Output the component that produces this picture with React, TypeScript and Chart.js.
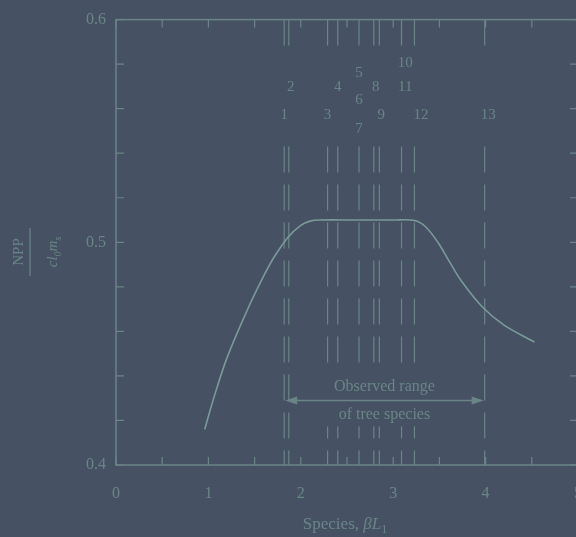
import React, { useEffect, useRef } from 'react';
import { Chart, registerables } from 'chart.js';

Chart.register(...registerables);

// Curve (NPP normalised vs species parameter)
const curveX = [0.96, 1.05, 1.2, 1.42, 1.6, 1.71, 1.86, 2.0, 2.1, 2.2, 2.6, 3.0, 3.23, 3.35, 3.49, 3.62, 3.74, 3.96, 4.2, 4.53];
const curveY = [0.416, 0.429, 0.448, 0.4695, 0.485, 0.4933, 0.5022, 0.5076, 0.5095, 0.51, 0.51, 0.51, 0.5098, 0.507, 0.4996, 0.4905, 0.4825, 0.4712, 0.4628, 0.4552];

// Species marker lines and their numeric labels
const speciesLineX = [1.82, 1.87, 2.29, 2.4, 2.63, 2.79, 2.85, 3.09, 3.23, 3.99];
const speciesNames = ['1', '2', '3', '4', '5', '6', '7', '8', '9', '10', '11', '12', '13'];
const speciesNameX = [1.82, 1.89, 2.29, 2.4, 2.63, 2.63, 2.63, 2.81, 2.87, 3.13, 3.13, 3.3, 4.03];
const speciesNameY = [0.557, 0.5695, 0.557, 0.5695, 0.576, 0.5637, 0.551, 0.5695, 0.557, 0.5807, 0.5695, 0.557, 0.557];

const yTickLabels = ['0.4', '0.5', '0.6'];
const xTickLabels = ['0', '1', '2', '3', '4', '5'];

const rangeStart = 1.82;
const rangeEnd = 3.99;
const rangeY = 0.429;
const rangeText = ['Observed range', 'of tree species'];

const BG = '#465263';
const INK = '#6a8586';
const CURVE = '#7a9a99';
const SERIF = '"Liberation Serif", "DejaVu Serif", serif';

const figurePlugin = {
  id: 'figurePlugin',
  beforeDraw(chart: any) {
    const { ctx, width, height } = chart;
    ctx.save();
    ctx.fillStyle = BG;
    ctx.fillRect(0, 0, width, height);
    ctx.restore();
  },
  beforeDatasetsDraw(chart: any) {
    const { ctx, chartArea } = chart;
    const xs = chart.scales.x;
    const ys = chart.scales.y;
    ctx.save();
    // dashed species lines
    ctx.strokeStyle = INK;
    ctx.lineWidth = 1.2;
    ctx.setLineDash([26, 12]);
    const gapTop = ys.getPixelForValue(0.588);
    const gapBottom = ys.getPixelForValue(0.543);
    speciesLineX.forEach((v) => {
      const px = xs.getPixelForValue(v);
      ctx.beginPath();
      ctx.moveTo(px, chartArea.top);
      ctx.lineTo(px, gapTop);
      ctx.stroke();
      ctx.beginPath();
      ctx.moveTo(px, gapBottom);
      ctx.lineTo(px, chartArea.bottom);
      ctx.stroke();
    });
    ctx.setLineDash([]);

    // species numbers
    ctx.fillStyle = INK;
    ctx.font = `15px ${SERIF}`;
    ctx.textAlign = 'center';
    ctx.textBaseline = 'middle';
    speciesNames.forEach((n, i) => {
      ctx.fillText(n, xs.getPixelForValue(speciesNameX[i]), ys.getPixelForValue(speciesNameY[i]));
    });

    // observed range annotation
    const x1 = xs.getPixelForValue(rangeStart);
    const x2 = xs.getPixelForValue(rangeEnd);
    const ay = ys.getPixelForValue(rangeY);
    const cx = (x1 + x2) / 2;
    ctx.fillStyle = BG;
    ctx.fillRect(x1 + 30, ay - 26, x2 - x1 - 60, 52);
    ctx.strokeStyle = INK;
    ctx.lineWidth = 1.5;
    ctx.beginPath();
    ctx.moveTo(x1 + 4, ay);
    ctx.lineTo(x2 - 4, ay);
    ctx.stroke();
    ctx.fillStyle = INK;
    ctx.beginPath();
    ctx.moveTo(x1 + 1, ay);
    ctx.lineTo(x1 + 13, ay - 4);
    ctx.lineTo(x1 + 13, ay + 4);
    ctx.closePath();
    ctx.fill();
    ctx.beginPath();
    ctx.moveTo(x2 - 1, ay);
    ctx.lineTo(x2 - 13, ay - 4);
    ctx.lineTo(x2 - 13, ay + 4);
    ctx.closePath();
    ctx.fill();
    ctx.font = `16px ${SERIF}`;
    ctx.fillText(rangeText[0], cx, ay - 14);
    ctx.fillText(rangeText[1], cx, ay + 14);
    ctx.restore();
  },
  afterDraw(chart: any) {
    const { ctx, chartArea } = chart;
    const xs = chart.scales.x;
    const ys = chart.scales.y;
    const { left, right, top, bottom } = chartArea;
    ctx.save();
    ctx.strokeStyle = INK;
    ctx.lineWidth = 1.5;
    ctx.strokeRect(left, top, right - left, bottom - top);
    ctx.lineWidth = 1.2;
    const tl = 8;
    ys.ticks.forEach((t: any) => {
      const py = ys.getPixelForValue(t.value);
      ctx.beginPath();
      ctx.moveTo(left, py);
      ctx.lineTo(left + tl, py);
      ctx.moveTo(right, py);
      ctx.lineTo(right - tl, py);
      ctx.stroke();
    });
    xs.ticks.forEach((t: any) => {
      const px = xs.getPixelForValue(t.value);
      ctx.beginPath();
      ctx.moveTo(px, bottom);
      ctx.lineTo(px, bottom - tl);
      ctx.moveTo(px, top);
      ctx.lineTo(px, top + tl);
      ctx.stroke();
    });

    // x-axis title: Species, βL₁
    ctx.fillStyle = INK;
    ctx.textBaseline = 'alphabetic';
    ctx.textAlign = 'left';
    const baseY = 529;
    const p1 = 'Species, ';
    ctx.font = `17px ${SERIF}`;
    const w1 = ctx.measureText(p1).width;
    ctx.font = `italic 17px ${SERIF}`;
    const w2 = ctx.measureText('βL').width;
    ctx.font = `12px ${SERIF}`;
    const w3 = ctx.measureText('1').width;
    let sx = 345 - (w1 + w2 + w3) / 2;
    ctx.font = `17px ${SERIF}`;
    ctx.fillText(p1, sx, baseY);
    sx += w1;
    ctx.font = `italic 17px ${SERIF}`;
    ctx.fillText('βL', sx, baseY);
    sx += w2;
    ctx.font = `12px ${SERIF}`;
    ctx.fillText('1', sx, baseY + 4);

    // y-axis title: NPP / (c l0 ms), rotated
    ctx.save();
    ctx.translate(0, 252);
    ctx.rotate(-Math.PI / 2);
    ctx.textAlign = 'center';
    ctx.font = `15px ${SERIF}`;
    ctx.fillText('NPP', 0, 23);
    ctx.lineWidth = 1.2;
    ctx.beginPath();
    ctx.moveTo(-24, 30);
    ctx.lineTo(24, 30);
    ctx.stroke();
    // denominator
    ctx.textAlign = 'left';
    const dParts: [string, boolean][] = [['cl', false], ['0', true], ['m', false], ['s', true]];
    let tw = 0;
    dParts.forEach(([s, sub]) => {
      ctx.font = sub ? `italic 10px ${SERIF}` : `italic 15px ${SERIF}`;
      tw += ctx.measureText(s).width;
    });
    let dx = -tw / 2;
    dParts.forEach(([s, sub]) => {
      ctx.font = sub ? `italic 10px ${SERIF}` : `italic 15px ${SERIF}`;
      ctx.fillText(s, dx, sub ? 61 : 57);
      dx += ctx.measureText(s).width;
    });
    ctx.restore();
    ctx.restore();
  },
};

export default function App() {
  const ref = useRef<HTMLCanvasElement>(null);
  useEffect(() => {
    if (!ref.current) return;
    const chart = new Chart(ref.current, {
      type: 'scatter',
      data: {
        datasets: [
          {
            data: curveX.map((x, i) => ({ x, y: curveY[i] })),
            showLine: true,
            borderColor: CURVE,
            borderWidth: 1.6,
            pointRadius: 0,
            tension: 0.35,
            fill: false,
          },
        ],
      },
      options: {
        responsive: false,
        animation: false,
        events: [],
        layout: { padding: { left: 0, right: 42, top: 19, bottom: 0 } },
        plugins: { legend: { display: false }, tooltip: { enabled: false } },
        scales: {
          x: {
            type: 'linear',
            min: 0,
            max: 5,
            grid: { display: false, drawTicks: false },
            border: { display: false },
            afterFit: (s: any) => {
              s.height = 72;
            },
            ticks: {
              stepSize: 0.5,
              padding: 19,
              color: INK,
              font: { family: SERIF, size: 16 },
              maxRotation: 0,
              autoSkip: false,
              callback: (v: any) => {
                const n = Number(v);
                return Math.abs(n - Math.round(n)) < 1e-6 ? xTickLabels[Math.round(n)] : '';
              },
            },
          },
          y: {
            type: 'linear',
            min: 0.4,
            max: 0.6,
            grid: { display: false, drawTicks: false },
            border: { display: false },
            afterFit: (s: any) => {
              s.width = 116;
            },
            ticks: {
              stepSize: 0.02,
              padding: 10,
              color: INK,
              font: { family: SERIF, size: 16 },
              autoSkip: false,
              callback: (v: any) => {
                const n = Number(v) * 10;
                return Math.abs(n - Math.round(n)) < 1e-6 ? yTickLabels[Math.round(n) - 4] : '';
              },
            },
          },
        },
      },
      plugins: [figurePlugin],
    });
    return () => chart.destroy();
  }, []);
  return (
    <div style={{ position: 'fixed', left: 0, top: 0, width: 576, height: 537, overflow: 'hidden', background: BG }}>
      <canvas ref={ref} width={620} height={537} style={{ display: 'block' }} />
    </div>
  );
}
